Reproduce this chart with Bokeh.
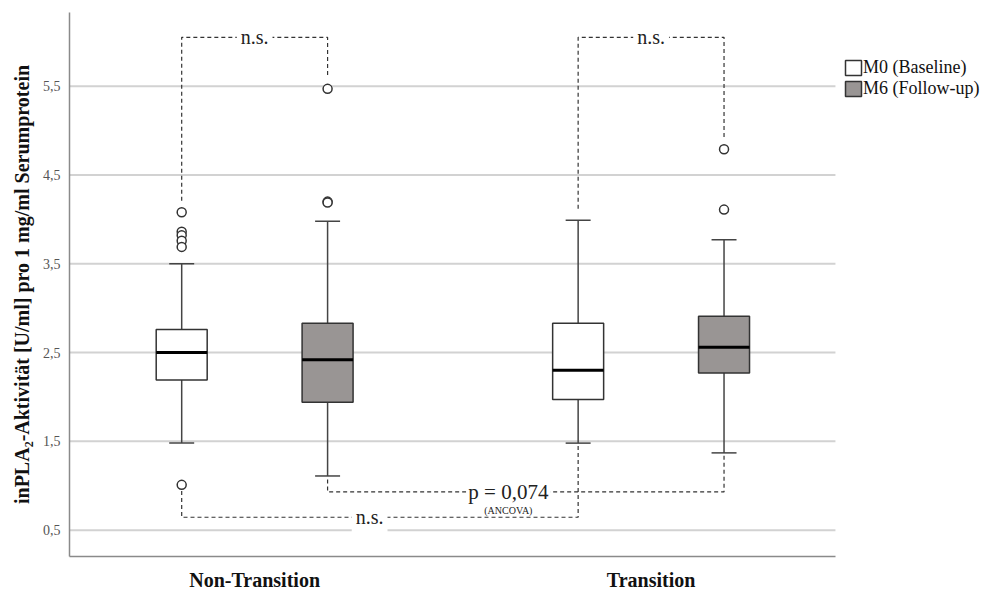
from bokeh.plotting import figure
from bokeh.models import (Range1d, FixedTicker, Label, Legend, LegendItem,
                          ColumnDataSource, CustomJSTickFormatter)
from bokeh.embed import file_html
from bokeh.resources import INLINE

# ---- data -------------------------------------------------------------
categories = ["Non-Transition", "Transition"]
series = ["M0 (Baseline)", "M6 (Follow-up)"]

# box statistics per category (Non-Transition, Transition)
m0_q1 = [2.19, 1.97]
m0_median = [2.50, 2.30]
m0_q3 = [2.76, 2.83]
m0_low = [1.48, 1.48]
m0_high = [3.50, 3.99]

m6_q1 = [1.94, 2.27]
m6_median = [2.42, 2.56]
m6_q3 = [2.83, 2.91]
m6_low = [1.11, 1.37]
m6_high = [3.98, 3.77]

# outliers per category
m0_outliers = [[4.08, 3.86, 3.82, 3.76, 3.69, 1.01], []]
m6_outliers = [[5.47, 4.20, 4.19], [4.79, 4.11]]

y_ticks = [0.5, 1.5, 2.5, 3.5, 4.5, 5.5]

label_ns = "n.s."
label_p = "p = 0,074"
label_test = "(ANCOVA)"

# ---- figure -----------------------------------------------------------
FONT = "Liberation Serif"
cat_x = [1, 2]
dodge = 0.184
box_w = 0.1286
cap_w = 0.063

# plotting area ends at x_end; the space to its right holds the legend
x_start, x_end, x_canvas_end = 0.533, 2.465, 2.841

p = figure(width=984, height=594, output_backend="svg", toolbar_location=None,
           x_range=Range1d(x_start, x_canvas_end), y_range=Range1d(0.203, 6.33),
           min_border_left=69, min_border_right=0,
           min_border_top=12, min_border_bottom=38)
p.outline_line_color = None
p.xgrid.grid_line_color = None
p.ygrid.grid_line_color = None

# horizontal reference lines, limited to the plotting area
p.segment(x0=[x_start] * len(y_ticks), x1=[x_end] * len(y_ticks), y0=y_ticks, y1=y_ticks,
          line_color="#d2d2d2", line_width=2)

p.yaxis.ticker = FixedTicker(ticks=y_ticks)
p.yaxis.formatter = CustomJSTickFormatter(code="return tick.toFixed(1).replace('.', ',');")
p.yaxis.axis_label = "inPLA₂-Aktivität [U/ml] pro 1 mg/ml Serumprotein"
p.yaxis.axis_label_text_font = FONT
p.yaxis.axis_label_text_font_style = "bold"
p.yaxis.axis_label_text_font_size = "20px"
p.yaxis.axis_label_text_color = "#111111"
p.yaxis.axis_label_standoff = 7
p.yaxis.major_label_text_font = FONT
p.yaxis.major_label_text_font_size = "14px"
p.yaxis.major_label_text_color = "#555555"
p.yaxis.major_label_standoff = 9

p.xaxis.ticker = FixedTicker(ticks=cat_x)
p.xaxis.bounds = (x_start, x_end)
p.xaxis.major_label_overrides = {cx: name for cx, name in zip(cat_x, categories)}
p.xaxis.major_label_text_font = FONT
p.xaxis.major_label_text_font_style = "bold"
p.xaxis.major_label_text_font_size = "20px"
p.xaxis.major_label_text_color = "#111111"
p.xaxis.major_label_standoff = 12

for ax in (p.xaxis, p.yaxis):
    ax.axis_line_color = "#8a8a8a"
    ax.axis_line_width = 1.5
    ax.major_tick_line_color = None
    ax.minor_tick_line_color = None
    ax.major_tick_out = 0
    ax.major_tick_in = 0
    ax.minor_tick_out = 0

# ---- boxes ------------------------------------------------------------
EDGE = "#333333"
stats = [
    (series[0], -dodge, m0_q1, m0_median, m0_q3, m0_low, m0_high, m0_outliers, "white"),
    (series[1], +dodge, m6_q1, m6_median, m6_q3, m6_low, m6_high, m6_outliers, "#999594"),
]

box_renderers = []
centers = {}
for name, off, q1, med, q3, lo, hi, outs, fill in stats:
    xs = [c + off for c in cat_x]
    centers[name] = xs
    src = ColumnDataSource(dict(
        x=xs, q1=q1, med=med, q3=q3, lo=lo, hi=hi,
        xl=[x - box_w / 2 for x in xs], xr=[x + box_w / 2 for x in xs],
        cl=[x - cap_w / 2 for x in xs], cr=[x + cap_w / 2 for x in xs],
    ))
    p.segment(x0="x", y0="q3", x1="x", y1="hi", source=src, line_color="#444444", line_width=1.5)
    p.segment(x0="x", y0="q1", x1="x", y1="lo", source=src, line_color="#444444", line_width=1.5)
    p.segment(x0="cl", y0="hi", x1="cr", y1="hi", source=src, line_color="#444444", line_width=1.5)
    p.segment(x0="cl", y0="lo", x1="cr", y1="lo", source=src, line_color="#444444", line_width=1.5)
    r = p.vbar(x="x", width=box_w, bottom="q1", top="q3", source=src,
               fill_color=fill, line_color=EDGE, line_width=1.5)
    box_renderers.append(r)
    p.segment(x0="xl", y0="med", x1="xr", y1="med", source=src, line_color="black", line_width=3)

    ox, oy = [], []
    for x, vals in zip(xs, outs):
        ox += [x] * len(vals)
        oy += vals
    p.scatter(ox, oy, marker="circle", size=9, fill_color="white",
              line_color=EDGE, line_width=1.5)

# ---- significance brackets --------------------------------------------
def group_max(hi, outs, i):
    return max([hi[i]] + outs[i])

def group_min(lo, outs, i):
    return min([lo[i]] + outs[i])

top_y = 6.05
gap = 0.13
bx, by = [], []
for i in range(len(cat_x)):
    xa = centers[series[0]][i]
    xb = centers[series[1]][i]
    bx.append([xa, xa, xb, xb])
    by.append([group_max(m0_high, m0_outliers, i) + gap, top_y, top_y,
               group_max(m6_high, m6_outliers, i) + gap])

# M6 between groups (ANCOVA)
inner_y = 0.93
bx.append([centers[series[1]][0]] * 2 + [centers[series[1]][1]] * 2)
by.append([group_min(m6_low, m6_outliers, 0) - 0.04, inner_y, inner_y,
           group_min(m6_low, m6_outliers, 1) - 0.02])

# M0 between groups
outer_y = 0.645
bx.append([centers[series[0]][0]] * 2 + [centers[series[0]][1]] * 2)
by.append([group_min(m0_low, m0_outliers, 0) - 0.07, outer_y, outer_y,
           group_min(m0_low, m0_outliers, 1) - 0.02])

p.multi_line(bx, by, line_color="#333333", line_width=1.2, line_dash="4 3")

def add_text(x, y, text, size, pad=4):
    p.add_layout(Label(x=x, y=y, text=text, text_font=FONT, text_font_size=size,
                       text_color="#222222", text_align="center", text_baseline="middle",
                       background_fill_color="white", padding=pad))

for i in range(len(cat_x)):
    add_text((centers[series[0]][i] + centers[series[1]][i]) / 2, top_y, label_ns, "20px")

add_text(1.64, inner_y, label_p, "21px", pad=2)
add_text(1.64, inner_y - 0.21, label_test, "10px", pad=0)
add_text(1.29, outer_y, label_ns, "20px")

# ---- legend -----------------------------------------------------------
legend = Legend(items=[LegendItem(label=s, renderers=[r]) for s, r in zip(series, box_renderers)],
                location=(774, 457), label_text_font=FONT, label_text_font_size="18px",
                label_text_color="#111111", glyph_width=20, glyph_height=19, spacing=0,
                padding=0, margin=0, label_standoff=0, label_height=19,
                background_fill_alpha=0, border_line_color=None)
p.add_layout(legend)

open("out.html", "w").write(file_html(p, INLINE))
